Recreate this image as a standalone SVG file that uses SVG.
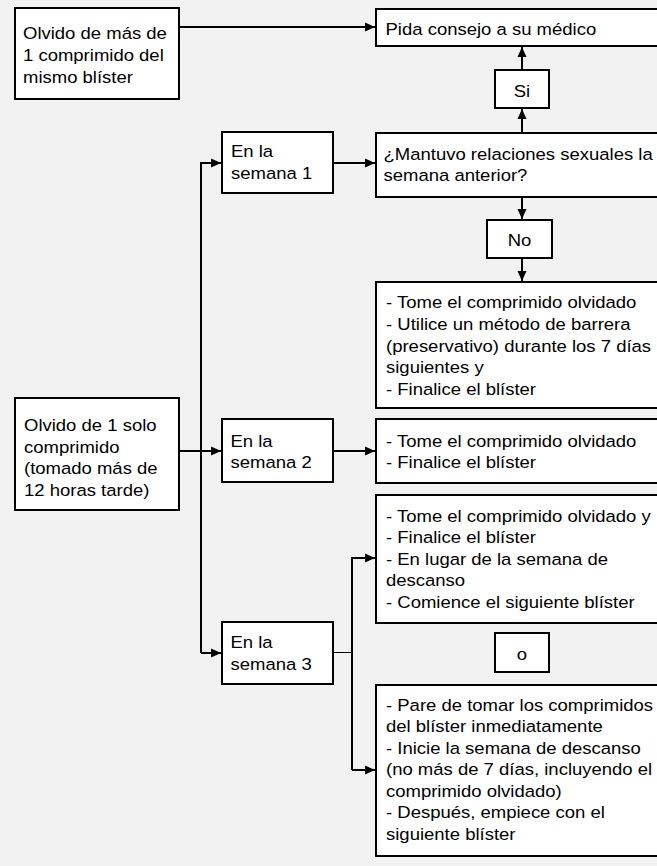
<svg xmlns="http://www.w3.org/2000/svg" width="657" height="866" viewBox="0 0 657 866">
<style>
.box{fill:#fff;stroke:#000;stroke-width:2}
.t{font-family:"Liberation Sans",Arial,sans-serif;font-size:16.3px;fill:#000}
.c{text-anchor:middle}
.ln{fill:none;stroke:#000;stroke-width:2}
.thin{fill:none;stroke:#000;stroke-width:1}
</style>
<defs>
<marker id="ah" markerUnits="userSpaceOnUse" markerWidth="11" markerHeight="10" refX="10" refY="5" orient="auto">
<path d="M0,0.5 L10,5 L0,9.5 Z" fill="#000"/>
</marker>
</defs>
<rect width="657" height="866" fill="#f2f2f2"/>
<g id="connectors">
<path class="ln" d="M179,27 H375" marker-end="url(#ah)"/>
<path class="ln" d="M522,133 V109" marker-end="url(#ah)"/>
<path class="ln" d="M522,70 V47" marker-end="url(#ah)"/>
<path class="ln" d="M522,197 V219" marker-end="url(#ah)"/>
<path class="ln" d="M522,258 V281" marker-end="url(#ah)"/>
<path class="ln" d="M179,451 H221" marker-end="url(#ah)"/>
<path class="ln" d="M201,653 V163 H221" marker-end="url(#ah)"/>
<path class="ln" d="M201,653 H221" marker-end="url(#ah)"/>
<path class="ln" d="M333,163 H375" marker-end="url(#ah)"/>
<path class="ln" d="M333,451 H375" marker-end="url(#ah)"/>
<path class="thin" d="M333,652.5 H352"/>
<path class="ln" d="M352,770 V558 H375" marker-end="url(#ah)"/>
<path class="ln" d="M352,770 H375" marker-end="url(#ah)"/>
</g>
<g id="n_mas1">
<rect class="box" x="15" y="8" width="164" height="91"/>
<text class="t" transform="translate(23 39.3) scale(1.135 1)"><tspan x="0">Olvido de más de</tspan><tspan x="0" dy="22">1 comprimido del</tspan><tspan x="0" dy="21.7">mismo blíster</tspan></text>
</g>
<g id="n_medico">
<rect class="box" x="376" y="9" width="300" height="37"/>
<text class="t" transform="translate(385.5 35) scale(1.135 1)">Pida consejo a su médico</text>
</g>
<g id="n_si">
<rect class="box" x="495" y="70" width="54" height="38"/>
<text class="t c" transform="translate(522 96.5) scale(1.135 1)">Si</text>
</g>
<g id="n_pregunta">
<rect class="box" x="376" y="133" width="300" height="64"/>
<text class="t" transform="translate(383.5 159.5) scale(1.135 1)"><tspan x="0">¿Mantuvo relaciones sexuales la</tspan><tspan x="0" dy="22">semana anterior?</tspan></text>
</g>
<g id="n_no">
<rect class="box" x="487" y="220" width="65" height="38"/>
<text class="t c" transform="translate(519.5 245.5) scale(1.135 1)">No</text>
</g>
<g id="n_res1">
<rect class="box" x="376" y="282" width="300" height="126"/>
<text class="t" transform="translate(386 308.3) scale(1.135 1)"><tspan x="0">- Tome el comprimido olvidado</tspan><tspan x="0" dy="21.7">- Utilice un método de barrera</tspan><tspan x="0" dy="21.7">(preservativo) durante los 7 días</tspan><tspan x="0" dy="21.7">siguientes y</tspan><tspan x="0" dy="21.7">- Finalice el blíster</tspan></text>
</g>
<g id="n_sem1">
<rect class="box" x="222" y="132" width="111" height="61"/>
<text class="t" transform="translate(231 157.3) scale(1.135 1)"><tspan x="0">En la</tspan><tspan x="0" dy="22">semana 1</tspan></text>
</g>
<g id="n_solo1">
<rect class="box" x="15" y="398" width="164" height="112"/>
<text class="t" transform="translate(24 431) scale(1.135 1)"><tspan x="0">Olvido de 1 solo</tspan><tspan x="0" dy="21.6">comprimido</tspan><tspan x="0" dy="21.6">(tomado más de</tspan><tspan x="0" dy="21.6">12 horas tarde)</tspan></text>
</g>
<g id="n_sem2">
<rect class="box" x="222" y="419" width="111" height="63"/>
<text class="t" transform="translate(230.5 446.7) scale(1.135 1)"><tspan x="0">En la</tspan><tspan x="0" dy="21.6">semana 2</tspan></text>
</g>
<g id="n_res2">
<rect class="box" x="376" y="419" width="300" height="64"/>
<text class="t" transform="translate(386 446.7) scale(1.135 1)"><tspan x="0">- Tome el comprimido olvidado</tspan><tspan x="0" dy="21.6">- Finalice el blíster</tspan></text>
</g>
<g id="n_res3a">
<rect class="box" x="376" y="495" width="300" height="128"/>
<text class="t" transform="translate(386 521.7) scale(1.135 1)"><tspan x="0">- Tome el comprimido olvidado y</tspan><tspan x="0" dy="21.6">- Finalice el blíster</tspan><tspan x="0" dy="21.6">- En lugar de la semana de</tspan><tspan x="0" dy="21.6">descanso</tspan><tspan x="0" dy="21.6">- Comience el siguiente blíster</tspan></text>
</g>
<g id="n_sem3">
<rect class="box" x="222" y="622" width="111" height="62"/>
<text class="t" transform="translate(230.5 648.3) scale(1.135 1)"><tspan x="0">En la</tspan><tspan x="0" dy="21.7">semana 3</tspan></text>
</g>
<g id="n_o">
<rect class="box" x="495" y="633" width="54" height="39"/>
<text class="t c" transform="translate(522 659.5) scale(1.135 1)">o</text>
</g>
<g id="n_res3b">
<rect class="box" x="376" y="685" width="300" height="171"/>
<text class="t" transform="translate(386 711) scale(1.135 1)"><tspan x="0">- Pare de tomar los comprimidos</tspan><tspan x="0" dy="21.5">del blíster inmediatamente</tspan><tspan x="0" dy="21.5">- Inicie la semana de descanso</tspan><tspan x="0" dy="21.5">(no más de 7 días, incluyendo el</tspan><tspan x="0" dy="21.5">comprimido olvidado)</tspan><tspan x="0" dy="21.5">- Después, empiece con el</tspan><tspan x="0" dy="21.5">siguiente blíster</tspan></text>
</g>
</svg>
